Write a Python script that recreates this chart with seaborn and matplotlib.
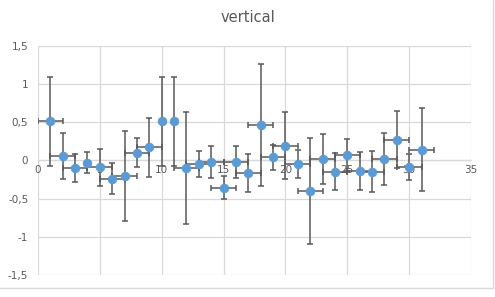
import matplotlib
matplotlib.use('Agg')
import matplotlib.pyplot as plt
import seaborn as sns
from matplotlib.lines import Line2D

# Data
x_vals = list(range(1, 32))
y_vals = [0.51, 0.06, -0.10, -0.03, -0.09, -0.24, -0.20, 0.10, 0.17, 0.51,
          0.51, -0.10, -0.05, -0.02, -0.36, -0.02, -0.17, 0.46, 0.04, 0.19,
          -0.05, -0.40, 0.02, -0.15, 0.07, -0.14, -0.15, 0.02, 0.27, -0.09, 0.14]
y_err = [0.58, 0.30, 0.18, 0.14, 0.24, 0.20, 0.59, 0.19, 0.39, 0.58,
         0.58, 0.73, 0.17, 0.21, 0.15, 0.21, 0.25, 0.80, 0.16, 0.44,
         0.18, 0.69, 0.33, 0.24, 0.21, 0.25, 0.27, 0.34, 0.37, 0.17, 0.54]
x_err = [1, 1, 1, 0, 1, 1, 1, 1, 1, 0,
         0, 1, 1, 1, 1, 1, 1, 1, 1, 1,
         1, 1, 1, 1, 1, 1, 1, 1, 1, 1, 1]
x_ticks = [0, 5, 10, 15, 20, 25, 30, 35]
y_ticks = [-1.5, -1, -0.5, 0, 0.5, 1, 1.5]

GRID = '#D9D9D9'
TEXT = '#595959'

sns.set_theme(style='white')
plt.rcParams['font.family'] = ['DejaVu Sans']
plt.rcParams['axes.unicode_minus'] = False

fig = plt.figure(figsize=(4.95, 2.97), dpi=100)
ax = fig.add_axes([38 / 495, 1 - 275 / 297, 433 / 495, (275 - 45.7) / 297])

ax.errorbar(x_vals, y_vals, yerr=y_err, xerr=x_err, fmt='none',
            ecolor=TEXT, elinewidth=1.1, capsize=2.5, capthick=1.1, zorder=3)
sns.scatterplot(x=x_vals, y=y_vals, ax=ax, color='#5B9BD5', edgecolor='#5B9BD5',
                s=40, linewidth=0.5, zorder=4, legend=False)

ax.set_xlim(0, 35)
ax.set_ylim(-1.5, 1.5)
ax.set_xticks(x_ticks)
ax.set_yticks(y_ticks)
ax.set_xticklabels([str(t) for t in x_ticks])
ax.set_yticklabels([('%g' % t).replace('.', ',') for t in y_ticks])
ax.grid(True, color=GRID, linewidth=0.9)
ax.set_axisbelow(True)

for side in ['left', 'right', 'top']:
    ax.spines[side].set_visible(False)
ax.spines['bottom'].set_position(('data', 0))
ax.spines['bottom'].set_color(GRID)
ax.spines['bottom'].set_linewidth(0.9)
ax.tick_params(axis='both', length=0, labelsize=7.5, labelcolor=TEXT)
ax.tick_params(axis='y', pad=7)
ax.tick_params(axis='x', pad=3)
ax.set_xlabel('')
ax.set_ylabel('')

fig.text(0.5, 1 - 17 / 297, 'vertical', ha='center', va='center',
         fontsize=10.5, color=TEXT)

# chart area border (right and bottom edges visible)
fig.add_artist(Line2D([492.5 / 495, 492.5 / 495], [1 - 288 / 297, 1.0],
                      transform=fig.transFigure, color=GRID, linewidth=1))
fig.add_artist(Line2D([0, 492.5 / 495], [1 - 288 / 297, 1 - 288 / 297],
                      transform=fig.transFigure, color=GRID, linewidth=1))

fig.savefig('out.png', dpi=100)
